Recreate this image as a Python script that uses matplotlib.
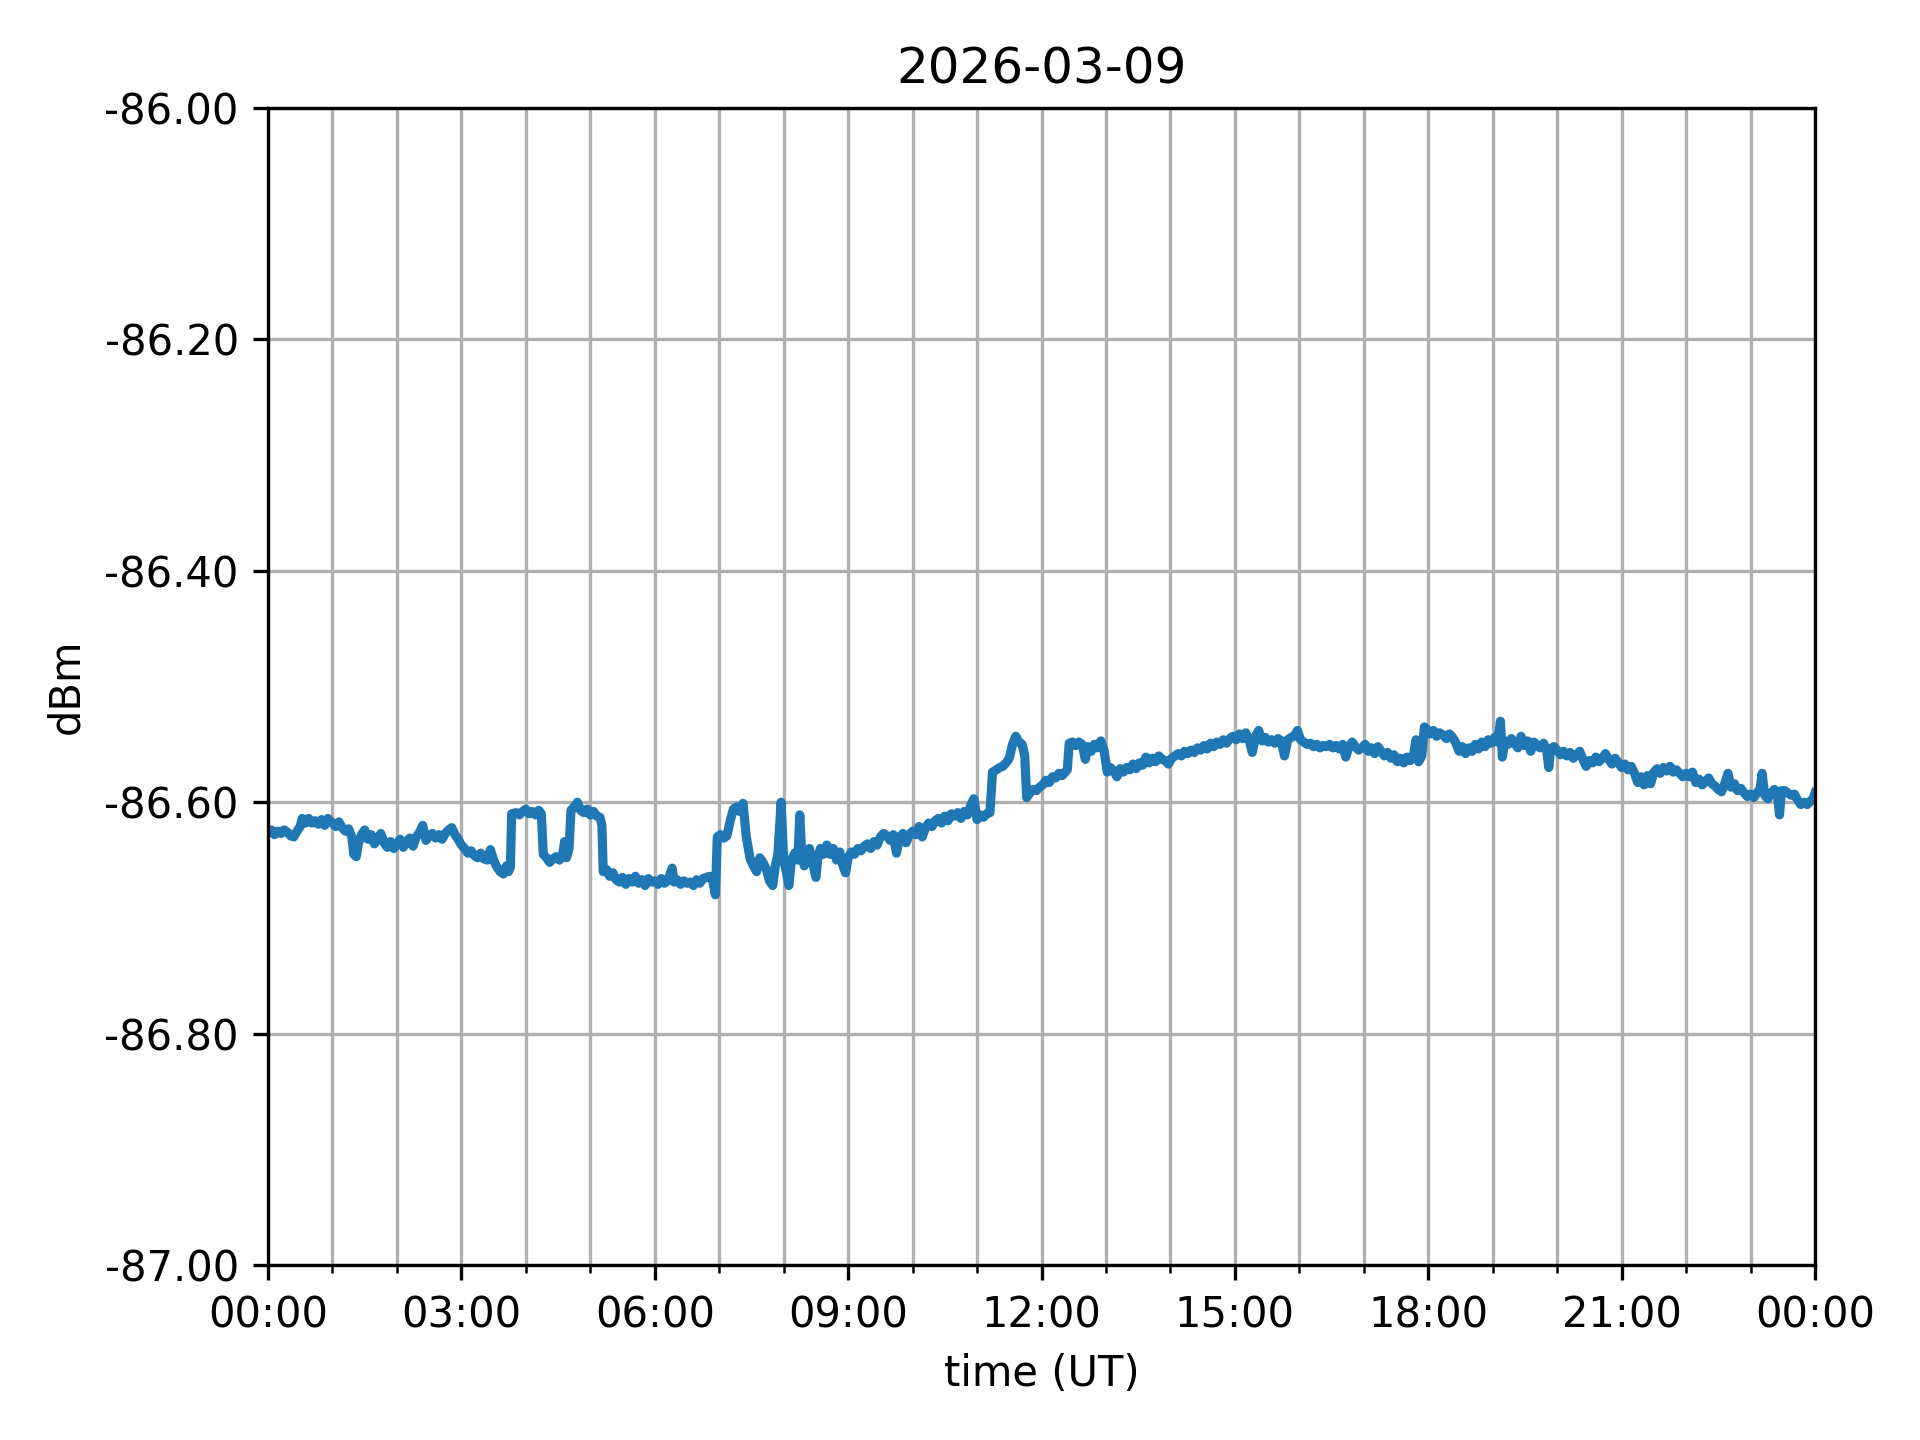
import datetime as dt

import matplotlib
matplotlib.use("Agg")
import matplotlib.pyplot as plt
import matplotlib.dates as mdates
from matplotlib.ticker import FormatStrFormatter

day = "2026-03-09"

hours = [
    0.00, 0.05, 0.10, 0.15, 0.20, 0.25, 0.30, 0.35, 0.40, 0.45, 0.50, 0.53, 0.58, 0.63, 0.68, 0.73, 0.78, 0.83, 0.88, 0.93,
    1.00, 1.05, 1.10, 1.15, 1.20, 1.25, 1.30, 1.33, 1.37, 1.40, 1.45, 1.50, 1.55, 1.60, 1.65, 1.70, 1.75, 1.80, 1.85, 1.90, 1.95,
    2.00, 2.05, 2.10, 2.15, 2.20, 2.25, 2.30, 2.35, 2.40, 2.45, 2.50, 2.55, 2.60, 2.65, 2.70, 2.75, 2.80, 2.85, 2.90, 2.95,
    3.00, 3.05, 3.10, 3.15, 3.20, 3.25, 3.30, 3.35, 3.40, 3.45, 3.50, 3.55, 3.60, 3.65, 3.70, 3.73, 3.76, 3.78, 3.85, 3.90, 3.95,
    4.00, 4.05, 4.10, 4.15, 4.20, 4.24, 4.27, 4.32, 4.37, 4.42, 4.47, 4.52, 4.57, 4.60, 4.63, 4.67, 4.70, 4.75, 4.80, 4.85, 4.90, 4.95,
    5.00, 5.05, 5.10, 5.15, 5.18, 5.20, 5.25, 5.30, 5.35, 5.40, 5.45, 5.50, 5.55, 5.60, 5.65, 5.70, 5.75, 5.80, 5.85, 5.90, 5.95,
    6.00, 6.05, 6.10, 6.15, 6.20, 6.27, 6.30, 6.35, 6.40, 6.45, 6.50, 6.55, 6.60, 6.65, 6.70, 6.75, 6.80, 6.85, 6.90, 6.94, 6.97,
    7.02, 7.07, 7.12, 7.17, 7.22, 7.27, 7.32, 7.37, 7.42, 7.48, 7.53, 7.58, 7.63, 7.68, 7.73, 7.78, 7.83, 7.87, 7.91, 7.96,
    8.00, 8.04, 8.08, 8.12, 8.17, 8.22, 8.25, 8.28, 8.32, 8.36, 8.40, 8.45, 8.50, 8.53, 8.57, 8.62, 8.67, 8.72, 8.77, 8.82, 8.87, 8.92, 8.96,
    9.00, 9.05, 9.10, 9.15, 9.20, 9.25, 9.30, 9.35, 9.40, 9.45, 9.50, 9.55, 9.60, 9.65, 9.70, 9.75, 9.80, 9.85, 9.90, 9.95,
    10.00, 10.05, 10.10, 10.15, 10.20, 10.25, 10.30, 10.35, 10.40, 10.45, 10.50, 10.55, 10.60, 10.65, 10.70, 10.75, 10.80, 10.85, 10.90, 10.95,
    11.00, 11.05, 11.10, 11.15, 11.20, 11.24, 11.30, 11.35, 11.40, 11.45, 11.50, 11.55, 11.60, 11.65, 11.70, 11.74, 11.77, 11.82, 11.87, 11.92, 11.97,
    12.02, 12.07, 12.12, 12.17, 12.22, 12.27, 12.32, 12.37, 12.40, 12.43, 12.48, 12.53, 12.58, 12.63, 12.68, 12.72, 12.77, 12.82, 12.87, 12.92, 12.97,
    13.02, 13.07, 13.12, 13.17, 13.22, 13.27, 13.32, 13.37, 13.42, 13.47, 13.52, 13.57, 13.62, 13.67, 13.72, 13.77, 13.82, 13.87, 13.92, 13.97,
    14.02, 14.07, 14.12, 14.17, 14.22, 14.27, 14.32, 14.37, 14.42, 14.47, 14.52, 14.57, 14.62, 14.67, 14.72, 14.77, 14.82, 14.87, 14.92, 14.97,
    15.02, 15.07, 15.12, 15.17, 15.22, 15.27, 15.32, 15.37, 15.42, 15.47, 15.52, 15.57, 15.62, 15.67, 15.72, 15.77, 15.82, 15.87, 15.92, 15.97,
    16.02, 16.07, 16.12, 16.17, 16.22, 16.27, 16.32, 16.37, 16.42, 16.47, 16.52, 16.57, 16.62, 16.67, 16.72, 16.77, 16.82, 16.87, 16.92, 16.97,
    17.02, 17.07, 17.12, 17.17, 17.22, 17.27, 17.32, 17.37, 17.42, 17.47, 17.52, 17.57, 17.62, 17.67, 17.72, 17.77, 17.81, 17.85, 17.90, 17.94, 17.98,
    18.03, 18.08, 18.13, 18.18, 18.23, 18.28, 18.33, 18.38, 18.43, 18.48, 18.53, 18.58, 18.63, 18.68, 18.73, 18.78, 18.83, 18.88, 18.93, 18.98,
    19.03, 19.08, 19.12, 19.15, 19.19, 19.24, 19.29, 19.34, 19.39, 19.44, 19.49, 19.54, 19.59, 19.64, 19.69, 19.74, 19.79, 19.84, 19.87, 19.90, 19.95,
    20.00, 20.05, 20.10, 20.15, 20.20, 20.25, 20.30, 20.35, 20.40, 20.45, 20.50, 20.55, 20.60, 20.65, 20.70, 20.75, 20.80, 20.85, 20.90, 20.95,
    21.00, 21.05, 21.10, 21.15, 21.20, 21.25, 21.30, 21.35, 21.40, 21.45, 21.50, 21.55, 21.60, 21.65, 21.70, 21.75, 21.80, 21.85, 21.90, 21.95,
    22.00, 22.05, 22.10, 22.15, 22.20, 22.25, 22.30, 22.35, 22.40, 22.45, 22.50, 22.55, 22.60, 22.65, 22.70, 22.75, 22.80, 22.85, 22.90, 22.95,
    23.00, 23.05, 23.10, 23.15, 23.18, 23.22, 23.27, 23.32, 23.37, 23.42, 23.45, 23.48, 23.53, 23.58, 23.63, 23.68, 23.73, 23.78, 23.83, 23.88, 23.93, 23.97,
    24.00,
]

dbm = [
    -86.626, -86.624, -86.628, -86.625, -86.627, -86.624, -86.626, -86.629, -86.630, -86.625, -86.621, -86.614, -86.618, -86.614, -86.618, -86.616, -86.619, -86.615, -86.620, -86.614,
    -86.618, -86.621, -86.617, -86.622, -86.625, -86.623, -86.630, -86.645, -86.647, -86.636, -86.628, -86.624, -86.632, -86.628, -86.636, -86.632, -86.627, -86.635, -86.639, -86.634, -86.640,
    -86.636, -86.632, -86.639, -86.634, -86.631, -86.638, -86.630, -86.626, -86.620, -86.633, -86.629, -86.627, -86.631, -86.628, -86.632, -86.627, -86.624, -86.622, -86.628, -86.632,
    -86.637, -86.640, -86.644, -86.642, -86.646, -86.648, -86.644, -86.649, -86.650, -86.641, -86.650, -86.656, -86.660, -86.662, -86.655, -86.660, -86.656, -86.610, -86.609, -86.611, -86.608,
    -86.606, -86.610, -86.608, -86.611, -86.607, -86.610, -86.645, -86.648, -86.652, -86.649, -86.647, -86.650, -86.646, -86.634, -86.648, -86.640, -86.607, -86.604, -86.600, -86.607, -86.609, -86.606,
    -86.611, -86.608, -86.612, -86.613, -86.620, -86.660, -86.658, -86.664, -86.661, -86.667, -86.669, -86.665, -86.671, -86.666, -86.669, -86.664, -86.670, -86.667, -86.672, -86.666, -86.669,
    -86.668, -86.671, -86.666, -86.670, -86.668, -86.657, -86.669, -86.667, -86.671, -86.668, -86.670, -86.669, -86.672, -86.667, -86.670, -86.666, -86.665, -86.664, -86.668, -86.680, -86.630,
    -86.628, -86.631, -86.629, -86.616, -86.606, -86.604, -86.608, -86.601, -86.630, -86.649, -86.655, -86.660, -86.648, -86.652, -86.658, -86.668, -86.672, -86.655, -86.645, -86.600,
    -86.650, -86.660, -86.672, -86.650, -86.644, -86.650, -86.611, -86.645, -86.655, -86.645, -86.640, -86.652, -86.665, -86.648, -86.640, -86.645, -86.637, -86.645, -86.640, -86.650, -86.643, -86.655, -86.661,
    -86.648, -86.643, -86.645, -86.640, -86.642, -86.638, -86.636, -86.640, -86.634, -86.637, -86.630, -86.627, -86.629, -86.633, -86.628, -86.644, -86.630, -86.627, -86.635, -86.628,
    -86.625, -86.628, -86.621, -86.630, -86.622, -86.618, -86.621, -86.616, -86.614, -86.618, -86.612, -86.616, -86.610, -86.612, -86.609, -86.614, -86.608, -86.611, -86.603, -86.597,
    -86.615, -86.611, -86.613, -86.610, -86.609, -86.574, -86.572, -86.570, -86.569, -86.566, -86.562, -86.550, -86.543, -86.548, -86.550, -86.560, -86.596, -86.592, -86.589, -86.590, -86.587,
    -86.585, -86.581, -86.583, -86.578, -86.579, -86.575, -86.577, -86.574, -86.572, -86.549, -86.548, -86.551, -86.548, -86.550, -86.563, -86.552, -86.556, -86.550, -86.553, -86.547, -86.555,
    -86.574, -86.570, -86.573, -86.578, -86.571, -86.574, -86.570, -86.572, -86.567, -86.571, -86.566, -86.568, -86.561, -86.566, -86.562, -86.565, -86.560, -86.563, -86.564, -86.567,
    -86.562, -86.560, -86.558, -86.560, -86.556, -86.558, -86.555, -86.557, -86.553, -86.555, -86.551, -86.554, -86.549, -86.552, -86.548, -86.550, -86.546, -86.549, -86.545, -86.543,
    -86.546, -86.541, -86.545, -86.540, -86.546, -86.557, -86.543, -86.538, -86.547, -86.544, -86.548, -86.546, -86.549, -86.545, -86.547, -86.560, -86.546, -86.544, -86.543, -86.538,
    -86.546, -86.548, -86.550, -86.549, -86.552, -86.550, -86.553, -86.551, -86.552, -86.550, -86.553, -86.551, -86.554, -86.550, -86.561, -86.552, -86.548, -86.552, -86.555, -86.553,
    -86.550, -86.556, -86.553, -86.558, -86.552, -86.556, -86.560, -86.557, -86.562, -86.559, -86.565, -86.562, -86.566, -86.561, -86.564, -86.560, -86.546, -86.565, -86.560, -86.535, -86.537,
    -86.541, -86.538, -86.543, -86.540, -86.542, -86.545, -86.541, -86.544, -86.549, -86.556, -86.552, -86.558, -86.553, -86.556, -86.550, -86.554, -86.548, -86.552, -86.546, -86.549,
    -86.544, -86.548, -86.530, -86.561, -86.547, -86.550, -86.545, -86.549, -86.553, -86.543, -86.551, -86.547, -86.556, -86.548, -86.551, -86.553, -86.549, -86.556, -86.570, -86.554, -86.552,
    -86.555, -86.559, -86.556, -86.560, -86.557, -86.562, -86.559, -86.556, -86.563, -86.569, -86.564, -86.566, -86.561, -86.565, -86.562, -86.558, -86.563, -86.567, -86.562, -86.566,
    -86.570, -86.567, -86.572, -86.569, -86.575, -86.583, -86.578, -86.585, -86.577, -86.584, -86.574, -86.571, -86.575, -86.570, -86.573, -86.569, -86.574, -86.572, -86.575, -86.578,
    -86.575, -86.578, -86.574, -86.583, -86.580, -86.585, -86.582, -86.579, -86.584, -86.586, -86.589, -86.591, -86.584, -86.575, -86.587, -86.584, -86.590, -86.588, -86.592, -86.595,
    -86.593, -86.596, -86.592, -86.588, -86.575, -86.594, -86.597, -86.592, -86.589, -86.595, -86.611, -86.590, -86.590, -86.592, -86.594, -86.593, -86.598, -86.602, -86.600, -86.602, -86.599, -86.597,
    -86.592,
]

start = dt.datetime.strptime(day, "%Y-%m-%d")
times = [start + dt.timedelta(hours=h) for h in hours]

fig = plt.figure(figsize=(6.4, 4.8), dpi=300)
ax = fig.add_subplot(111)
fig.subplots_adjust(left=0.1396, right=0.9453, top=0.925, bottom=0.1215)

# the source is densely sampled, so the trace reads as a thick band
ax.plot(times, dbm, color="tab:blue", lw=2.2)

ax.set_xlim(start, start + dt.timedelta(days=1))
ax.set_ylim(-87.0, -86.0)
ax.xaxis.set_major_locator(mdates.HourLocator(byhour=range(0, 24, 3)))
ax.xaxis.set_minor_locator(mdates.HourLocator())
ax.xaxis.set_major_formatter(mdates.DateFormatter("%H:%M"))
ax.yaxis.set_major_formatter(FormatStrFormatter("%.2f"))
ax.set_yticks([-87.0, -86.8, -86.6, -86.4, -86.2, -86.0])

ax.grid(True, which="both", axis="x")
ax.grid(True, which="major", axis="y")

ax.set_title(day)
ax.set_xlabel("time (UT)")
ax.set_ylabel("dBm")

plt.savefig("out.png", dpi=300)
